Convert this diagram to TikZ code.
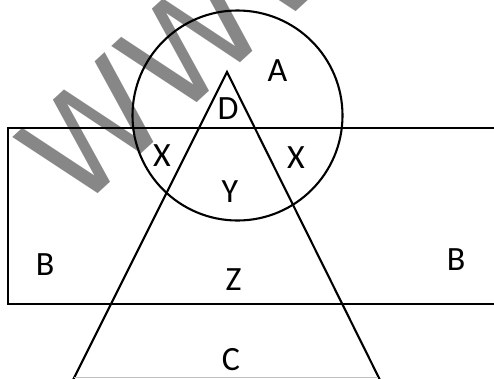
\documentclass[tikz,border=0pt]{standalone}
\usepackage{fontspec}
\setmainfont{Carlito}
\newfontfamily\wmfont{DejaVu Sans}
\begin{document}
\begin{tikzpicture}[x=1pt,y=-1pt,
  shapeline/.style={line width=2.1pt, black},
  lbl/.style={inner sep=0pt, font=\fontsize{34}{34}\selectfont},
  wmark/.style={inner sep=0pt, text=black!47, font=\fontsize{136}{136}\wmfont}]
\useasboundingbox (0,0) rectangle (494,378);
\clip (0,0) rectangle (494,378);
% watermark
\node[wmark, rotate=42.6, anchor=base west] (wm) at (76,214) {WWW};
% shapes
\coordinate (rtl) at (8,128);
\coordinate (rbr) at (504,304);
\draw[shapeline] (rtl) rectangle (rbr);
\coordinate (cc) at (237.5,115.5);
\draw[shapeline] (cc) circle[radius=105];
\coordinate (apex) at (227,72);
\coordinate (bl) at (73,380);
\coordinate (br) at (380,380);
\draw[shapeline] (bl) -- (apex) -- (br);
\coordinate (bbl) at (74,377.5);
\coordinate (bbr) at (378,377.5);
\draw[line width=1pt, black!25] (bbl) -- (bbr);
% labels
\node[lbl] (A) at (277.5,70.5) {A};
\node[lbl] (D) at (228,109) {D};
\node[lbl] (X1) at (162,156) {X};
\node[lbl] (X2) at (296,157.5) {X};
\node[lbl] (Y) at (230,191.5) {Y};
\node[lbl] (Z) at (233.5,279.5) {Z};
\node[lbl] (B1) at (45,265) {B};
\node[lbl] (B2) at (456,260) {B};
\node[lbl] (C) at (231,360) {C};
\end{tikzpicture}
\end{document}
